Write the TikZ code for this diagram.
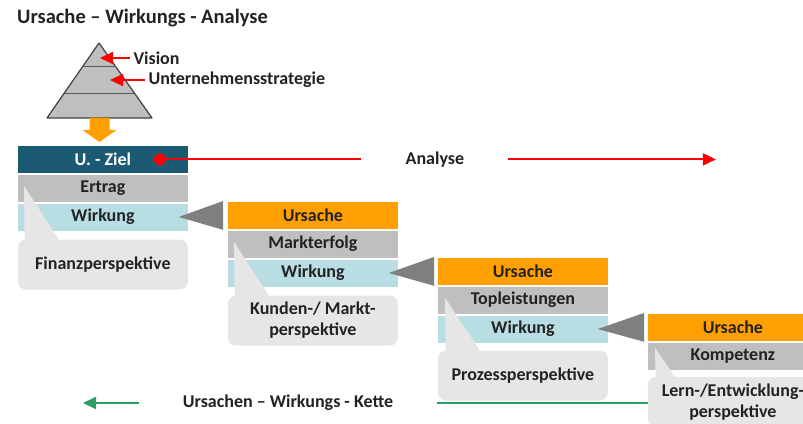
\documentclass[tikz,border=0pt]{standalone}
\usepackage{fontspec}
\setmainfont{Carlito}
\usetikzlibrary{positioning,calc,arrows.meta}
\definecolor{zieldark}{HTML}{1C5A73}
\definecolor{rowgray}{HTML}{BFBFBF}
\definecolor{wirkblue}{HTML}{B8DEE3}
\definecolor{ursorange}{HTML}{FFA000}
\definecolor{callgray}{HTML}{E6E6E6}
\definecolor{pointgray}{HTML}{7F7F7F}
\definecolor{chaingreen}{HTML}{2E9D62}
\definecolor{textdark}{HTML}{222222}
\tikzset{
    row-box/.style = {rectangle, minimum width=171pt, minimum height=28pt, inner sep=0pt, draw=white, line width=0.8pt, text=textdark, font=\bfseries\fontsize{18}{20}\selectfont},
    call-box/.style = {rectangle, rounded corners=8pt, fill=callgray, minimum width=170pt, minimum height=50pt, inner sep=0pt, align=center, text=textdark, font=\bfseries\fontsize{18}{21}\selectfont},
    plain-label/.style = {text=textdark, font=\bfseries\fontsize{18}{20}\selectfont},
    red-arrow/.style = {draw=red, line width=2pt, -{Triangle[length=13pt,width=12pt]}},
    green-arrow/.style = {draw=chaingreen, line width=2pt, -{Triangle[length=13pt,width=12pt]}},
}
\begin{document}
\begin{tikzpicture}[x=1pt,y=1pt]
\useasboundingbox (0,0) rectangle (803,423);
\clip (0,0) rectangle (803,423);

% title
\node[plain-label, anchor=west, inner sep=0pt, font=\bfseries\fontsize{20.5}{24}\selectfont] (title) at (17,405) {Ursache -- Wirkungs - Analyse};

% pyramid
\coordinate (apex) at (99,380);
\coordinate (pyrleft) at (47,305);
\coordinate (pyrright) at (152,305);
\filldraw[fill=rowgray, draw=black!75, line width=1.2pt, line join=round] (apex) -- (pyrright) -- (pyrleft) -- cycle;
\draw[black!65, line width=1pt] ($(apex)!0.32!(pyrleft)$) -- ($(apex)!0.32!(pyrright)$);
\draw[black!65, line width=1pt] ($(apex)!0.667!(pyrleft)$) -- ($(apex)!0.667!(pyrright)$);

\node[plain-label, anchor=west] (vision) at (130,365) {Vision};
\node[plain-label, anchor=west] (strategie) at (145,343) {Unternehmensstrategie};
\coordinate (visiontip) at (100,365);
\coordinate (strategietip) at (110,343);
\draw[red-arrow] (vision.west) -- (visiontip);
\draw[red-arrow] (strategie.west) -- (strategietip);

% column 1
\node[row-box, fill=zieldark, text=white, anchor=north west] (ziel) at (17,278) {U. - Ziel};
\node[row-box, fill=rowgray, below=0pt of ziel] (ertrag) {Ertrag};
\node[row-box, fill=wirkblue, below=0pt of ertrag] (wirk1) {Wirkung};

% orange arrow from pyramid to goal
\coordinate (pyrbase) at ($(pyrleft)!0.5!(pyrright)$);
\fill[ursorange] ([xshift=-10pt]pyrbase) -- ++(20,0) -- ++(0,-12) -- ++(7,0) -- ++(-17,-12) -- ++(-17,12) -- ++(7,0) -- cycle;

% column 2
\node[row-box, fill=ursorange, anchor=north west] (urs2) at (227,222) {Ursache};
\node[row-box, fill=rowgray, below=0pt of urs2] (markt) {Markterfolg};
\node[row-box, fill=wirkblue, below=0pt of markt] (wirk2) {Wirkung};

% column 3
\node[row-box, fill=ursorange, anchor=north west] (urs3) at (437,166) {Ursache};
\node[row-box, fill=rowgray, below=0pt of urs3] (top) {Topleistungen};
\node[row-box, fill=wirkblue, below=0pt of top] (wirk3) {Wirkung};

% column 4
\node[row-box, fill=ursorange, anchor=north west] (urs4) at (647,110) {Ursache};
\node[row-box, fill=rowgray, below=0pt of urs4] (komp) {Kompetenz};

% pointers from cause to effect
\fill[pointgray] ([xshift=-10pt]wirk1.east) -- ([xshift=-4pt]urs2.north west) -- ([xshift=-4pt]urs2.south west) -- cycle;
\fill[pointgray] ([xshift=-10pt]wirk2.east) -- ([xshift=-3pt]urs3.north west) -- ([xshift=-3pt]urs3.south west) -- cycle;
\fill[pointgray] ([xshift=-11pt]wirk3.east) -- ([xshift=-3pt]urs4.north west) -- ([xshift=-3pt]urs4.south west) -- cycle;

% analysis arrow
\fill[red] ([xshift=57pt]ziel.center) coordinate (zieldot) circle (6pt);
\node[plain-label, inner xsep=44pt] (analyse) at ($(zieldot)+(275,0)$) {Analyse};
\coordinate (analyseend) at ($(zieldot)+(556,0)$);
\draw[red, line width=2pt] (zieldot) -- (analyse.west);
\draw[red-arrow] (analyse.east) -- (analyseend);

% chain arrow
\node[plain-label, inner xsep=44pt] (kette) at (288,20) {Ursachen -- Wirkungs - Kette};
\coordinate (ketteend) at (83,20);
\coordinate (kettestart) at (660,20);
\draw[chaingreen, line width=2pt] (kettestart) -- (kette.east);
\draw[green-arrow] (kette.west) -- (ketteend);

% perspective callouts
\node[call-box, below=8pt of wirk1] (fin) {Finanzperspektive};
\fill[callgray] ([shift={(7pt,-12pt)}]ertrag.north west) -- ([shift={(7pt,-6pt)}]fin.north west) -- ([shift={(41pt,-6pt)}]fin.north west) -- ([xshift=41pt]fin.north west) -- cycle;

\node[call-box, below=8pt of wirk2] (kunden) {Kunden-/ Markt-\\perspektive};
\fill[callgray] ([shift={(7pt,-12pt)}]markt.north west) -- ([shift={(7pt,-6pt)}]kunden.north west) -- ([shift={(41pt,-6pt)}]kunden.north west) -- ([xshift=41pt]kunden.north west) -- cycle;

\node[call-box, below=7pt of wirk3] (prozess) {Prozessperspektive};
\fill[callgray] ([shift={(8pt,-12pt)}]top.north west) -- ([shift={(8pt,-6pt)}]prozess.north west) -- ([shift={(42pt,-6pt)}]prozess.north west) -- ([xshift=42pt]prozess.north west) -- cycle;

\node[call-box, below=6pt of komp] (lern) {Lern-/Entwicklung-\\perspektive};
\fill[callgray] ([shift={(8pt,-6pt)}]komp.north west) -- ([shift={(8pt,-6pt)}]lern.north west) -- ([shift={(27pt,-6pt)}]lern.north west) -- ([xshift=27pt]lern.north west) -- cycle;
\end{tikzpicture}
\end{document}
